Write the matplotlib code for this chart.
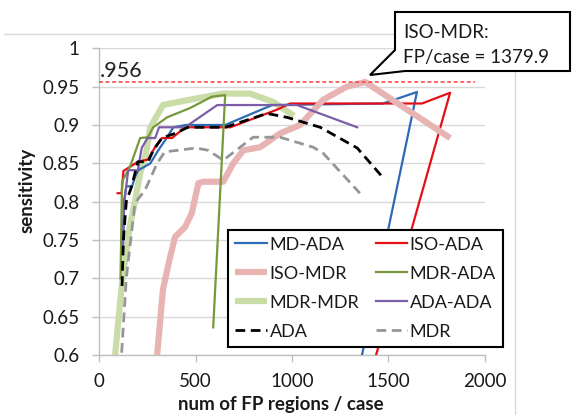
import matplotlib
matplotlib.use("Agg")
import matplotlib.pyplot as plt
from matplotlib.lines import Line2D
from matplotlib.patches import Polygon

plt.rcParams['font.family'] = ['Lato', 'DejaVu Sans']

# ---- data ----
md_ada_x = [122, 128, 140, 170, 185, 203, 265, 306, 352, 384, 450, 653, 897, 1473, 1648, 1363]
md_ada_y = [0.74, 0.80, 0.82, 0.82, 0.832, 0.841, 0.85, 0.867, 0.884, 0.897, 0.90, 0.90, 0.926, 0.928, 0.943, 0.60]

iso_ada_x = [95, 116, 125, 200, 253, 289, 325, 377, 445, 680, 922, 990, 1674, 1820, 1436]
iso_ada_y = [0.811, 0.811, 0.84, 0.852, 0.855, 0.871, 0.883, 0.883, 0.897, 0.897, 0.92, 0.928, 0.928, 0.942, 0.60]

iso_mdr_x = [300, 330, 360, 393, 445, 480, 514, 540, 643, 695, 747, 834, 938, 1042, 1162, 1284, 1380, 1820]
iso_mdr_y = [0.60, 0.685, 0.72, 0.754, 0.767, 0.785, 0.824, 0.826, 0.826, 0.85, 0.867, 0.871, 0.889, 0.90, 0.933, 0.95, 0.956, 0.883]

mdr_ada_x = [110, 118, 160, 212, 252, 280, 352, 470, 585, 653, 591]
mdr_ada_y = [0.70, 0.826, 0.846, 0.883, 0.884, 0.897, 0.91, 0.922, 0.937, 0.939, 0.636]

mdr_mdr_x = [82, 120, 160, 185, 212, 240, 265, 330, 470, 643, 782, 902, 1010]
mdr_mdr_y = [0.60, 0.70, 0.77, 0.80, 0.837, 0.86, 0.897, 0.926, 0.933, 0.941, 0.941, 0.93, 0.912]

ada_ada_x = [123, 130, 150, 200, 220, 250, 290, 310, 445, 612, 1025, 1338]
ada_ada_y = [0.74, 0.80, 0.841, 0.841, 0.87, 0.883, 0.883, 0.897, 0.897, 0.926, 0.926, 0.897]

ada_x = [118, 125, 140, 168, 200, 253, 280, 325, 393, 460, 653, 870, 973, 1146, 1338, 1473]
ada_y = [0.69, 0.75, 0.80, 0.82, 0.852, 0.852, 0.867, 0.883, 0.889, 0.897, 0.897, 0.915, 0.91, 0.897, 0.87, 0.831]

mdr_x = [116, 140, 185, 237, 300, 340, 409, 500, 565, 643, 798, 938, 1110, 1162, 1352]
mdr_y = [0.603, 0.70, 0.798, 0.815, 0.85, 0.865, 0.867, 0.87, 0.867, 0.854, 0.884, 0.884, 0.871, 0.863, 0.811]

peak_value = 0.956
peak_fp = 1379.9
x_ticks = [0, 500, 1000, 1500, 2000]
y_ticks = [0.6, 0.65, 0.7, 0.75, 0.8, 0.85, 0.9, 0.95, 1.0]
y_ticklabels = ['0.6', '0.65', '0.7', '0.75', '0.8', '0.85', '0.9', '0.95', '1']

W, H = 572, 415
fig = plt.figure(figsize=(W / 100, H / 100), dpi=100)
L, R, T, B = 99.3, 484.8, 48.3, 355.0
ax = fig.add_axes([L / W, 1 - B / H, (R - L) / W, (B - T) / H])

def px(x, y):
    return (x / W, 1 - y / H)

# series
ax.plot(md_ada_x, md_ada_y, color='#2E6BB5', lw=1.6, zorder=3, label='MD-ADA')
ax.plot(iso_ada_x, iso_ada_y, color='#E3101A', lw=1.6, zorder=3, label='ISO-ADA')
ax.plot(iso_mdr_x, iso_mdr_y, color='#E8B4B3', lw=4.5, zorder=4, label='ISO-MDR', solid_capstyle='butt')
ax.plot(mdr_mdr_x, mdr_mdr_y, color='#CADDA9', lw=4.5, zorder=2, label='MDR-MDR', solid_capstyle='butt')
ax.plot(mdr_ada_x, mdr_ada_y, color='#77993A', lw=1.6, zorder=5, label='MDR-ADA')
ax.plot(ada_ada_x, ada_ada_y, color='#7B5EA7', lw=1.6, zorder=5, label='ADA-ADA')
ax.plot(ada_x, ada_y, color='black', lw=2.0, ls=(0, (3.5, 2)), zorder=6, label='ADA')
ax.plot(mdr_x, mdr_y, color='#969696', lw=2.0, ls=(0, (3.5, 2)), zorder=6, label='MDR')

# reference line
ax.plot([0, 1950], [peak_value, peak_value], color='#FF3B3B', lw=1.1, ls=(0, (2.5, 1.8)),
        zorder=7, clip_on=False)
ax.text(0, 0.9627, '.956', fontsize=15.5, ha='left', va='baseline', color='#222222', zorder=8)

ax.set_xlim(0, 2000)
ax.set_ylim(0.6, 1.0)
ax.set_xticks(x_ticks)
ax.set_xticklabels([str(v) for v in x_ticks])
ax.set_yticks(y_ticks)
ax.set_yticklabels(y_ticklabels)
ax.tick_params(axis='both', labelsize=13.5, colors='#BFBFBF', labelcolor='#1A1A1A',
               length=5, width=1, direction='out')
ax.tick_params(axis='y', pad=9)
ax.tick_params(axis='x', pad=8)
ax.grid(axis='y', color='#D9D9D9', lw=1)
ax.set_axisbelow(True)
for s in ['top', 'right']:
    ax.spines[s].set_visible(False)
for s in ['left', 'bottom']:
    ax.spines[s].set_color('#BFBFBF')
    ax.spines[s].set_linewidth(1)

fig.text(*px(27, 190), 'sensitivity', rotation=90, fontsize=13.5, fontweight='bold',
         ha='center', va='center', color='#1A1A1A')
fig.text(*px(281, 404), 'num of FP regions / case', fontsize=13.5, fontweight='bold',
         ha='center', va='center', color='#1A1A1A')

# legend
handles, labels = ax.get_legend_handles_labels()
order = ['MD-ADA', 'ISO-MDR', 'MDR-MDR', 'ADA', 'ISO-ADA', 'MDR-ADA', 'ADA-ADA', 'MDR']
hmap = dict(zip(labels, handles))
leg = fig.legend([hmap[k] for k in order], order, ncol=2, loc='lower left',
                 bbox_to_anchor=px(228, 347), bbox_transform=fig.transFigure,
                 borderaxespad=0, fontsize=13, frameon=True, fancybox=False,
                 edgecolor='black', framealpha=1, handlelength=1.75, handletextpad=0.15,
                 columnspacing=0.9, labelspacing=0.72, borderpad=0.4)
leg.get_frame().set_linewidth(1.5)
leg.set_zorder(10)
for t in leg.get_texts():
    t.set_color('#1A1A1A')

# chart border lines (top and right)
fig.add_artist(Line2D([4 / W, 515 / W], [1 - 34 / H, 1 - 34 / H], color='#D9D9D9', lw=1,
                      transform=fig.transFigure))
fig.add_artist(Line2D([515 / W, 515 / W], [1 - 34 / H, 0], color='#D9D9D9', lw=1,
                      transform=fig.transFigure))

# callout
pts = [(395, 12), (570, 12), (570, 71), (405, 71), (370, 75), (395, 50)]
poly = Polygon([px(a, b) for a, b in pts], closed=True, transform=fig.transFigure,
               facecolor='white', edgecolor='black', lw=1.5, zorder=20)
fig.add_artist(poly)
fig.text(*px(403, 32), 'ISO-MDR:', fontsize=13.5, ha='left', va='center', color='#1A1A1A', zorder=21)
fig.text(*px(403, 57), 'FP/case = %.1f' % peak_fp, fontsize=13.5, ha='left', va='center',
         color='#1A1A1A', zorder=21)

fig.savefig('out.png', dpi=100)
